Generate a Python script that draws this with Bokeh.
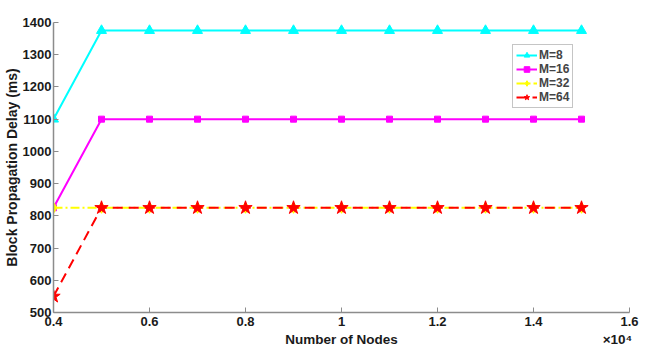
from bokeh.plotting import figure
from bokeh.models import FixedTicker, Legend, LegendItem, Range1d, LinearAxis
from bokeh.embed import file_html
from bokeh.resources import INLINE

nodes = [4000, 5000, 6000, 7000, 8000, 9000, 10000, 11000, 12000, 13000, 14000, 15000]
m8 = [1100, 1375, 1375, 1375, 1375, 1375, 1375, 1375, 1375, 1375, 1375, 1375]
m16 = [825, 1100, 1100, 1100, 1100, 1100, 1100, 1100, 1100, 1100, 1100, 1100]
m32 = [825, 825, 825, 825, 825, 825, 825, 825, 825, 825, 825, 825]
m64 = [550, 825, 825, 825, 825, 825, 825, 825, 825, 825, 825, 825]
x_ticks = [0.4, 0.6, 0.8, 1.0, 1.2, 1.4, 1.6]
x_tick_labels = ["0.4", "0.6", "0.8", "1", "1.2", "1.4", "1.6"]
y_ticks = [500, 600, 700, 800, 900, 1000, 1100, 1200, 1300, 1400]
x_title = "Number of Nodes"
x_exponent = "×10⁴"

x = [n / 1e4 for n in nodes]

FONT = "Liberation Sans"
p = figure(width=660, height=355, output_backend="svg", toolbar_location=None,
           x_range=Range1d(0.4, 1.6), y_range=Range1d(500, 1400),
           min_border_left=53, min_border_right=31, min_border_top=22, min_border_bottom=43)
p.outline_line_color = None
p.grid.visible = False
p.background_fill_color = "white"
p.border_fill_color = "white"

for ax in (p.xaxis[0], p.yaxis[0]):
    ax.axis_line_color = "#8c8c8c"
    ax.axis_line_width = 1.5
    ax.major_tick_line_color = "#8c8c8c"
    ax.major_tick_in = 5
    ax.major_tick_out = 0
    ax.minor_tick_line_color = None
    ax.major_label_text_font = FONT
    ax.major_label_text_font_style = "bold"
    ax.major_label_text_font_size = "13px"
    ax.major_label_text_color = "#1a1a1a"
    ax.axis_label_text_font = FONT
    ax.axis_label_text_font_style = "bold"
    ax.axis_label_text_color = "#1a1a1a"

p.xaxis.ticker = FixedTicker(ticks=x_ticks)
p.xaxis.major_label_overrides = {t: l for t, l in zip(x_ticks, x_tick_labels)}
p.xaxis.major_label_standoff = 4
p.yaxis.ticker = FixedTicker(ticks=y_ticks)
p.yaxis.axis_label = "Block Propagation Delay (ms)"
p.yaxis.axis_label_text_font_size = "14px"
p.yaxis.axis_label_standoff = 0
p.yaxis.major_label_standoff = 2

# second row under the x axis: axis title (centred) and the x10^4 exponent (at the right end)
title_axis = LinearAxis(ticker=FixedTicker(ticks=[1.0, 1.575]),
                        major_label_overrides={1.0: x_title, 1.575: x_exponent},
                        axis_line_color=None, major_tick_line_color=None, minor_tick_line_color=None,
                        major_tick_in=0, major_tick_out=0, major_label_standoff=3,
                        major_label_text_font=FONT, major_label_text_font_style="bold",
                        major_label_text_font_size="13.5px", major_label_text_color="#1a1a1a")
p.add_layout(title_axis, "below")

l1 = p.line(x, m8, line_color="#00FFFF", line_width=2)
s1 = p.scatter(x, m8, marker="triangle", size=10, fill_color="#00FFFF", line_color="#00FFFF")
l2 = p.line(x, m16, line_color="#FF00FF", line_width=2)
s2 = p.scatter(x, m16, marker="square", size=6, fill_color="#FF00FF", line_color="#FF00FF")
l3 = p.line(x, m32, line_color="#FFFF00", line_width=2, line_dash="9 3 2 3")
s3 = p.scatter(x, m32, marker="diamond", size=11, fill_color="#FFFF00", line_color="#FFFF00")
l4 = p.line(x, m64, line_color="#FF0000", line_width=2, line_dash="10 6")
s4 = p.scatter(x, m64, marker="star", size=14, fill_color="#FF0000", line_color="#FF0000")

legend = Legend(items=[
    LegendItem(label="M=8", renderers=[l1, s1]),
    LegendItem(label="M=16", renderers=[l2, s2]),
    LegendItem(label="M=32", renderers=[l3, s3]),
    LegendItem(label="M=64", renderers=[l4, s4]),
], location=(459, 204))
legend.label_text_font = FONT
legend.label_text_font_style = "bold"
legend.label_text_font_size = "12px"
legend.label_height = 14
legend.glyph_height = 14
legend.glyph_width = 21
legend.spacing = 0
legend.padding = 3
legend.margin = 0
legend.label_standoff = 2
legend.border_line_color = "#8c8c8c"
legend.border_line_width = 1.5
p.add_layout(legend, "center")

open("out.html", "w").write(file_html(p, INLINE))
